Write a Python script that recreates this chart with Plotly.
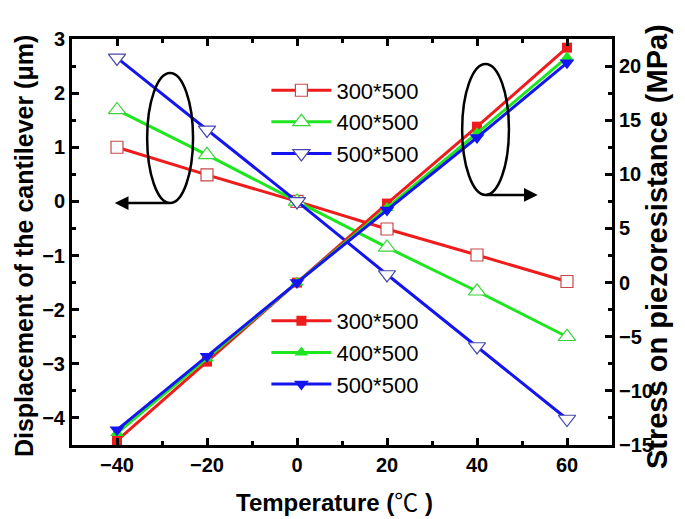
import plotly.graph_objects as go

temps = [-40, -20, 0, 20, 40, 60]
names = ["300*500", "400*500", "500*500"]

disp_300 = [1.0, 0.49, 0.0, -0.51, -0.99, -1.48]
disp_400 = [1.69, 0.86, 0.0, -0.85, -1.66, -2.5]
disp_500 = [2.65, 1.32, 0.0, -1.35, -2.68, -4.02]

stress_300 = [-14.6, -7.3, 0.0, 7.3, 14.4, 21.7]
stress_400 = [-13.9, -7.0, 0.0, 6.9, 13.8, 20.8]
stress_500 = [-13.6, -6.8, 0.0, 6.7, 13.4, 20.3]

line_colors = ["#ee1c1c", "#1ee61e", "#1414f0"]
edge_colors = ["#c84848", "#3ad43a", "#4848b0"]
symbols = ["square", "triangle-up", "triangle-down"]
hollow_sizes = [12, 15, 15]
filled_sizes = [10, 12, 13]

FONT = "Liberation Sans, Arial, sans-serif"

fig = go.Figure()

for name, d, lc, ec, sym, sz in zip(names, [disp_300, disp_400, disp_500],
                                    line_colors, edge_colors, symbols, hollow_sizes):
    fig.add_trace(go.Scatter(
        x=temps, y=d, name=name, mode="lines+markers",
        line=dict(color=lc, width=3),
        marker=dict(symbol=sym, size=sz, color="white", line=dict(color=ec, width=1.2)),
        legend="legend", yaxis="y"))

for name, s, lc, sym, sz in zip(names, [stress_300, stress_400, stress_500],
                                line_colors, symbols, filled_sizes):
    fig.add_trace(go.Scatter(
        x=temps, y=s, name=name, mode="lines+markers",
        line=dict(color=lc, width=3),
        marker=dict(symbol=sym, size=sz, color=lc, line=dict(width=0)),
        legend="legend2", yaxis="y2"))

axis_common = dict(
    showline=True, linecolor="black", linewidth=3, automargin=False,
    ticks="inside", ticklen=7, tickwidth=2.5, tickcolor="black",
    showgrid=False, zeroline=False,
    tickfont=dict(family=FONT, size=20, color="black", weight="bold"),
)
minor_common = dict(ticks="inside", ticklen=4, tickwidth=2.5, tickcolor="black")

legend_common = dict(xanchor="left", yanchor="top", bgcolor="rgba(0,0,0,0)",
                     borderwidth=0, itemwidth=60,
                     font=dict(family=FONT, size=22, color="black"))

# page body has an 8px default margin, so the figure is sized to fit the window
fig.update_layout(
    width=677, height=511,
    margin=dict(l=64, r=73, t=31, b=74, autoexpand=False),
    paper_bgcolor="white", plot_bgcolor="white",
    font=dict(family=FONT, color="black"),
    xaxis=dict(range=[-50, 70], tick0=-40, dtick=20, mirror="ticks",
               minor=dict(dtick=10, tick0=-50, **minor_common), **axis_common),
    yaxis=dict(range=[-4.5, 3], tick0=0, dtick=1,
               minor=dict(dtick=0.5, **minor_common), **axis_common),
    yaxis2=dict(range=[-15, 22.5], tick0=0, dtick=5, overlaying="y", side="right",
                minor=dict(dtick=2.5, **minor_common), **axis_common),
    legend=dict(x=0.36, y=0.925, **legend_common),
    legend2=dict(x=0.36, y=0.357, **legend_common),
    showlegend=True,
)

# axis titles
fig.add_annotation(text="<b>Temperature (</b><span style='font-family:Noto Sans CJK SC'>℃</span><b> )</b>",
                   xref="paper", yref="paper", x=0.487, y=-0.1355,
                   xanchor="center", yanchor="middle", showarrow=False,
                   font=dict(family=FONT, size=24, color="black"))
fig.add_annotation(text="<b>Displacement of the cantilever (μm)</b>",
                   xref="paper", yref="paper", x=-0.0889, y=0.49, textangle=-90,
                   xanchor="center", yanchor="middle", showarrow=False,
                   font=dict(family=FONT, size=25, color="black"))
fig.add_annotation(text="<b>Stress on piezoresistance (MPa)</b>",
                   xref="paper", yref="paper", x=1.0833, y=0.49, textangle=-90,
                   xanchor="center", yanchor="middle", showarrow=False,
                   font=dict(family=FONT, size=29, color="black"))

# ellipses marking the axis groups
fig.add_shape(type="circle", xref="x", yref="y", x0=-33.3, x1=-23.1, y0=-0.03, y1=2.37,
              line=dict(color="black", width=2.5))
fig.add_shape(type="circle", xref="x", yref="y", x0=36.7, x1=47.1, y0=0.12, y1=2.54,
              line=dict(color="black", width=2.5))

# arrows
fig.add_annotation(x=-40.5, y=-0.03, ax=-28.2, ay=-0.03, xref="x", yref="y",
                   axref="x", ayref="y", text="", showarrow=True,
                   arrowhead=2, arrowsize=1.1, arrowwidth=2.5, arrowcolor="black")
fig.add_annotation(x=53.5, y=0.12, ax=41.8, ay=0.12, xref="x", yref="y",
                   axref="x", ayref="y", text="", showarrow=True,
                   arrowhead=2, arrowsize=1.1, arrowwidth=2.5, arrowcolor="black")

fig.write_html("out.html")
